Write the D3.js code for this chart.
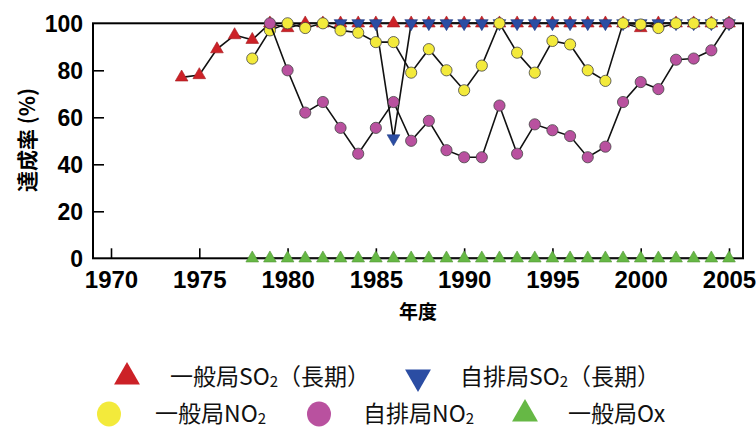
<!DOCTYPE html>
<html>
<head>
<meta charset="utf-8">
<script src="https://cdn.jsdelivr.net/npm/d3@7"></script>
<style>
  html, body { margin: 0; padding: 0; background: #fff; }
  svg { display: block; }
</style>
</head>
<body>
<svg id="chart" width="756" height="430"></svg>
<script>
// 環境基準達成率の推移（年度別）
const xTicks = [1970, 1975, 1980, 1985, 1990, 1995, 2000, 2005];
const yTicks = [0, 20, 40, 60, 80, 100];

// 一般局 SO2（長期） 1974〜2005
const so2GenStart = 1974;
const so2GenValues = [77, 78, 89, 95, 93, 100, 98,
  100, 100, 100, 100, 100, 100, 100, 100, 100, 100,
  100, 100, 100, 100, 100, 100, 100, 100, 100,
  98, 100, 100, 100, 100, 100];

// 自排局 SO2（長期） 1983〜2005
const so2RoadStart = 1983;
const so2RoadValues = [100, 100, 100, 51,
  100, 100, 100, 100, 100, 100, 100, 100, 100, 100,
  100, 100, 100, 100, 100, 100, 100, 100, 100];

// 一般局 NO2 1978〜2005
const no2GenStart = 1978;
const no2GenValues = [85, 97, 100, 98, 100, 97, 96, 92, 92, 79,
  89, 80, 71.5, 82, 100, 87.5, 79, 92.5, 91, 80,
  75.5, 100, 99.5, 98, 100, 100, 100, 100];

// 自排局 NO2 1979〜2005
const no2RoadStart = 1979;
const no2RoadValues = [100, 80, 62, 66.5, 55.5, 44.5, 55.5, 66.5, 50, 58.5,
  46, 43, 43, 65, 44.5, 57, 54.5, 52, 43, 47.5,
  66.5, 75, 72, 84.5, 85, 88.5, 100];

// 一般局 Ox 1978〜2005
const oxGenStart = 1978;
const oxGenValues = [0, 0, 0, 0, 0, 0, 0, 0, 0, 0,
  0, 0, 0, 0, 0, 0, 0, 0, 0, 0,
  0, 0, 0, 0, 0, 0, 0, 0];

const toPoints = (start, values) => values.map((v, i) => ({ year: start + i, value: v }));

const series = [
  { key: "so2Gen",  label: "一般局", chem: "SO", sub: "2", tail: "（長期）", color: "#cc2127", shape: "up",   points: toPoints(so2GenStart, so2GenValues) },
  { key: "so2Road", label: "自排局", chem: "SO", sub: "2", tail: "（長期）", color: "#2b4da3", shape: "down", points: toPoints(so2RoadStart, so2RoadValues) },
  { key: "oxGen",   label: "一般局", chem: "Ox", sub: "",  tail: "",        color: "#66b845", shape: "up",   points: toPoints(oxGenStart, oxGenValues) },
  { key: "no2Gen",  label: "一般局", chem: "NO", sub: "2", tail: "",        color: "#f3ea3b", shape: "circle", points: toPoints(no2GenStart, no2GenValues) },
  { key: "no2Road", label: "自排局", chem: "NO", sub: "2", tail: "",        color: "#b9519f", shape: "circle", points: toPoints(no2RoadStart, no2RoadValues) }
];

const svg = d3.select("#chart");

const frame = { left: 93, right: 743, top: 23.3, bottom: 258.3 };

const x = d3.scaleLinear().domain([1970, 2005]).range([111, 729]);
const y = d3.scaleLinear().domain([0, 100]).range([frame.bottom, frame.top]);

const tickFont = "'Liberation Sans', Arial, sans-serif";
const cjkFont = "'Noto Sans CJK JP', 'Noto Sans', sans-serif";

// axes with inward ticks
const xAxis = d3.axisBottom(x).tickValues(xTicks).tickSize(-10).tickPadding(16).tickFormat(d3.format("d"));
const yAxis = d3.axisLeft(y).tickValues(yTicks).tickSize(-11).tickPadding(10);

const gx = svg.append("g").attr("transform", `translate(0,${frame.bottom})`).call(xAxis);
gx.select(".domain").remove();
gx.selectAll(".tick line").attr("stroke", "#000").attr("stroke-width", 1.6);
gx.selectAll(".tick text")
  .attr("font-family", tickFont).attr("font-weight", "bold").attr("font-size", 24)
  .attr("fill", "#000").attr("dy", "0.71em").attr("y", 13);

const gy = svg.append("g").attr("transform", `translate(${frame.left},0)`).call(yAxis);
gy.select(".domain").remove();
gy.selectAll(".tick line").attr("stroke", "#000").attr("stroke-width", 1.6)
  .filter(d => d === 0 || d === 100).remove();
gy.selectAll(".tick text")
  .attr("font-family", tickFont).attr("font-weight", "bold").attr("font-size", 23)
  .attr("fill", "#000").attr("x", -10).attr("dy", "0.36em");

// plot frame
svg.append("rect")
  .attr("x", frame.left).attr("y", frame.top)
  .attr("width", frame.right - frame.left).attr("height", frame.bottom - frame.top)
  .attr("fill", "none").attr("stroke", "#000").attr("stroke-width", 2);

// axis titles
svg.append("text")
  .attr("transform", `translate(35,140) rotate(-90)`)
  .attr("text-anchor", "middle")
  .attr("font-family", cjkFont).attr("font-weight", "bold").attr("font-size", 21)
  .text("達成率 (%)");

svg.append("text")
  .attr("x", 418).attr("y", 319)
  .attr("text-anchor", "middle")
  .attr("font-family", cjkFont).attr("font-weight", "bold").attr("font-size", 19)
  .text("年度");

const triUp = d3.symbol().type(d3.symbolTriangle);
const line = d3.line().x(d => x(d.year)).y(d => y(d.value));

function drawMarker(sel, s) {
  if (s.shape === "circle") {
    sel.append("circle").attr("r", 5.6);
  } else {
    sel.append("path")
      .attr("d", triUp.size(70)())
      .attr("transform", s.shape === "down" ? "rotate(180)" : null);
  }
}

// series lines and markers
series.forEach(s => {
  const g = svg.append("g").attr("class", s.key);
  g.append("path")
    .datum(s.points)
    .attr("d", line)
    .attr("fill", "none")
    .attr("stroke", "#111")
    .attr("stroke-width", 1.6);
  g.selectAll("g.pt")
    .data(s.points)
    .join("g")
    .attr("class", "pt")
    .attr("transform", d => `translate(${x(d.year)},${y(d.value)})`)
    .each(function () {
      const m = d3.select(this);
      drawMarker(m, s);
      m.selectAll("circle, path")
        .attr("fill", s.color)
        .attr("stroke", s.shape === "circle" ? "#444" : d3.color(s.color).darker(0.6))
        .attr("stroke-width", s.shape === "circle" ? 0.8 : 0.6);
    });
});

// legend
const legendItems = [
  { s: "so2Gen",  mx: 127, tx: 170, y: 377 },
  { s: "so2Road", mx: 418, tx: 460, y: 377 },
  { s: "no2Gen",  mx: 109, tx: 155, y: 414 },
  { s: "no2Road", mx: 319, tx: 363, y: 414 },
  { s: "oxGen",   mx: 525, tx: 568, y: 414 }
];

const legend = svg.append("g").attr("class", "legend");
legendItems.forEach(item => {
  const s = series.find(d => d.key === item.s);
  const m = legend.append("g").attr("transform", `translate(${item.mx},${item.y})`);
  if (s.shape === "circle") {
    m.append("ellipse").attr("rx", 12).attr("ry", 12.5).attr("fill", s.color);
  } else {
    m.append("path")
      .attr("d", triUp.size(290)())
      .attr("transform", s.shape === "down" ? "rotate(180)" : null)
      .attr("fill", s.color);
  }
  const t = legend.append("text")
    .attr("x", item.tx).attr("y", item.y)
    .attr("dy", "0.36em")
    .attr("font-family", cjkFont).attr("font-size", 23).attr("fill", "#111");
  t.append("tspan").text(s.label);
  t.append("tspan").text(s.chem);
  if (s.sub) {
    t.append("tspan").attr("font-size", 15).attr("dy", 2).text(s.sub);
  }
  if (s.tail) {
    t.append("tspan").attr("dy", -2).text(s.tail);
  }
});
</script>
</body>
</html>
